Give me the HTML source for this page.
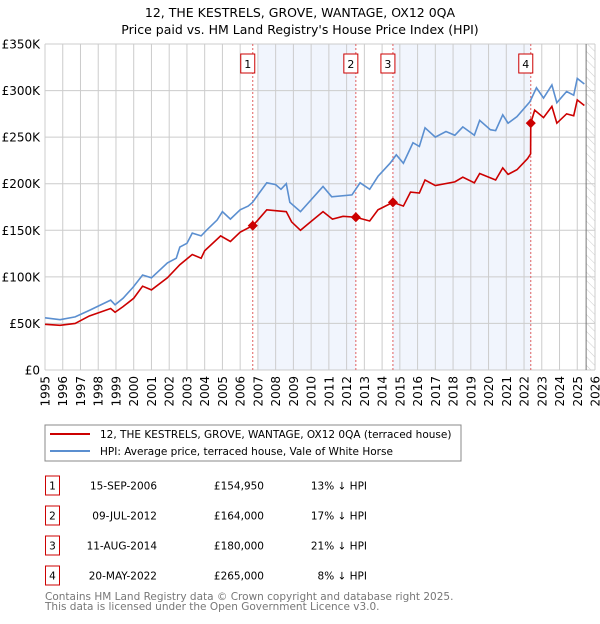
<!DOCTYPE html>
<html><head><meta charset="utf-8"><style>
body{margin:0;background:#fff;font-family:"DejaVu Sans","Liberation Sans",sans-serif;}
svg text{font-family:"DejaVu Sans","Liberation Sans",sans-serif;}
</style></head><body>
<svg id="c" width="600" height="620" xmlns="http://www.w3.org/2000/svg">
<defs><pattern id="hatch" width="6" height="6" patternUnits="userSpaceOnUse" patternTransform="rotate(-45)"><line x1="0" y1="0" x2="0" y2="6" stroke="#ccc" stroke-width="1"/></pattern></defs>
<text x="300" y="17" text-anchor="middle" font-size="12.5">12, THE KESTRELS, GROVE, WANTAGE, OX12 0QA</text>
<text x="300" y="34" text-anchor="middle" font-size="12.5">Price paid vs. HM Land Registry's House Price Index (HPI)</text>
<g id="plot"></g>
<rect x="45" y="425" width="416" height="36" fill="#fff" stroke="#888"/>
<line x1="50" y1="434" x2="90" y2="434" stroke="#cc0000" stroke-width="2"/>
<text x="100" y="438" font-size="10.5">12, THE KESTRELS, GROVE, WANTAGE, OX12 0QA (terraced house)</text>
<line x1="50" y1="451" x2="90" y2="451" stroke="#5b8fd0" stroke-width="2"/>
<text x="100" y="455" font-size="10.5">HPI: Average price, terraced house, Vale of White Horse</text>
<g id="table"></g>
<text x="45" y="600" font-size="10.5" fill="#777">Contains HM Land Registry data © Crown copyright and database right 2025.</text>
<text x="45" y="610" font-size="10.5" fill="#777">This data is licensed under the Open Government Licence v3.0.</text>
</svg>
<script>
const hpiYears=[1995,1995.85,1996.7,1997.5,1998.7,1998.95,1999.4,1999.97,2000.5,2001,2001.9,2002.4,2002.6,2003,2003.3,2003.8,2004.1,2004.7,2005,2005.45,2006,2006.45,2006.7,2007,2007.5,2008,2008.3,2008.6,2008.8,2009.4,2010.67,2011.16,2012.3,2012.76,2013.3,2013.77,2014.45,2014.8,2015.2,2015.74,2016.1,2016.42,2017,2017.6,2018.1,2018.55,2019.2,2019.5,2020.1,2020.4,2020.8,2021.1,2021.6,2022.33,2022.7,2023.1,2023.57,2023.85,2024.4,2024.8,2025.0,2025.4];
const hpiValues=[56,54,57,64,75,70,77,89,102,99,115,120,132,136,147,144,150,161,170,162,172,176,180,188,201,199,194,200,180,170,197,186,188,201,194,208,222,231,222,244,240,260,250,256,252,261,252,268,258,257,274,265,272,288,303,292,306,287,299,295,313,307];
const propYears=[1995,1995.85,1996.7,1997.5,1998.7,1998.95,1999.4,2000,2000.5,2001,2001.9,2002.6,2003.3,2003.8,2004,2004.9,2005.45,2006,2006.71,2007,2007.5,2008,2008.6,2008.9,2009.4,2009.9,2010.67,2011.2,2011.8,2012.52,2013.3,2013.77,2014.61,2015.2,2015.6,2016.1,2016.42,2017,2018.1,2018.55,2019.2,2019.5,2020.4,2020.8,2021.1,2021.6,2022.2,2022.37,2022.38,2022.6,2023.1,2023.57,2023.85,2024.4,2024.8,2025.0,2025.4];
const propValues=[49,48,50,58,66,62,68,77,90,86,99,113,124,120,128,144,138,148,155,161,172,171,170,159,150,158,170,162,165,164,160,172,180,176,191,190,204,198,202,207,201,211,204,217,210,215,227,232,265,279,271,283,265,275,273,290,284];
const saleLabels=["1","2","3","4"];
const saleYears=[2006.71,2012.52,2014.61,2022.38];
const salePrices=[154950,164000,180000,265000];
const saleDates=["15-SEP-2006","09-JUL-2012","11-AUG-2014","20-MAY-2022"];
const salePriceText=["£154,950","£164,000","£180,000","£265,000"];
const salePct=["13% ↓ HPI","17% ↓ HPI","21% ↓ HPI","8% ↓ HPI"];
const yTicks=[0,50,100,150,200,250,300,350];
const yTickLabels=["£0","£50K","£100K","£150K","£200K","£250K","£300K","£350K"];
const shadeRanges=[[2007,2012.52],[2014.61,2022.38]];

const NS="http://www.w3.org/2000/svg";
const X0=45,X1=595,Y0=370,Y1=44;
const xs=y=>X0+(y-1995)/31*(X1-X0);
const ys=v=>Y0-v/350*(Y0-Y1);
const plot=document.getElementById('plot');
function mk(tag,attrs,parent){const e=document.createElementNS(NS,tag);for(const k in attrs)e.setAttribute(k,attrs[k]);(parent||plot).appendChild(e);return e;}
shadeRanges.forEach(r=>{
 const e=mk('rect',{x:xs(r[0]),y:Y1,width:xs(r[1])-xs(r[0]),height:Y0-Y1,fill:'#eef3fc',opacity:0.8});
 
 
});
const h=mk('rect',{x:xs(2025.5),y:Y1,width:X1-xs(2025.5),height:Y0-Y1,fill:'url(#hatch)'});


for(let yr=1995;yr<=2026;yr++){
 const g=mk('line',{x1:xs(yr),x2:xs(yr),y1:Y1,y2:Y0,stroke:'#ccc','stroke-width':1});
 
 
 const t=mk('text',{x:0,y:0,'font-size':12,'text-anchor':'end',transform:`translate(${xs(yr)+4.5},376) rotate(-90)`});
 t.textContent=yr;
 
 
}
yTicks.forEach((v,i)=>{
 const g=mk('line',{x1:X0,x2:X1,y1:ys(v),y2:ys(v),stroke:'#ccc','stroke-width':1});
 
 
 const t=mk('text',{x:40,y:ys(v)+4.5,'font-size':12,'text-anchor':'end'});
 t.textContent=yTickLabels[i];
 
 
});
const tl=mk('line',{x1:xs(2025.5),x2:xs(2025.5),y1:Y1,y2:Y0,stroke:'#777','stroke-width':1});


saleYears.forEach((yr,i)=>{
 const l=mk('line',{x1:xs(yr),x2:xs(yr),y1:Y1,y2:Y0,stroke:'#e06060','stroke-width':1,'stroke-dasharray':'2,2'});
 
 
 const b=mk('rect',{x:xs(yr)-12,y:54,width:14,height:19,fill:'#fff',stroke:'#cc0000'});
 
 
 const t=mk('text',{x:xs(yr)-5,y:68,'font-size':11,'text-anchor':'middle'});
 t.textContent=saleLabels[i];
 
 
});
const hp=mk('polyline',{points:hpiYears.map((y,i)=>xs(y)+','+ys(hpiValues[i])).join(' '),fill:'none',stroke:'#5b8fd0','stroke-width':1.6});


const pp=mk('polyline',{points:propYears.map((y,i)=>xs(y)+','+ys(propValues[i])).join(' '),fill:'none',stroke:'#cc0000','stroke-width':1.6});


saleYears.forEach((yr,i)=>{
 const cx=xs(yr),cy=ys(salePrices[i]/1000);
 const d=mk('polygon',{points:`${cx-4},${cy} ${cx},${cy-4} ${cx+4},${cy} ${cx},${cy+4}`,fill:'#cc0000',stroke:'#cc0000','stroke-width':1.5});
 
 
});
const tb=document.getElementById('table');
saleLabels.forEach((lab,i)=>{
 const y=476+i*30;
 const r=mk('rect',{x:45.5,y:y,width:14,height:19,fill:'#fff',stroke:'#cc0000'},tb);
 
 
 const cols=[[52.5,lab,'middle','table-row-number'],[157,saleDates[i],'end','table-row-date'],[264,salePriceText[i],'end','table-row-price'],[367,salePct[i],'end','table-row-hpi-diff']];
 cols.forEach(c=>{
  const t=mk('text',{x:c[0],y:y+13.5,'font-size':10.5,'text-anchor':c[2]},tb);
  t.textContent=c[1];
  
  
 });
});
</script>
</body></html>
